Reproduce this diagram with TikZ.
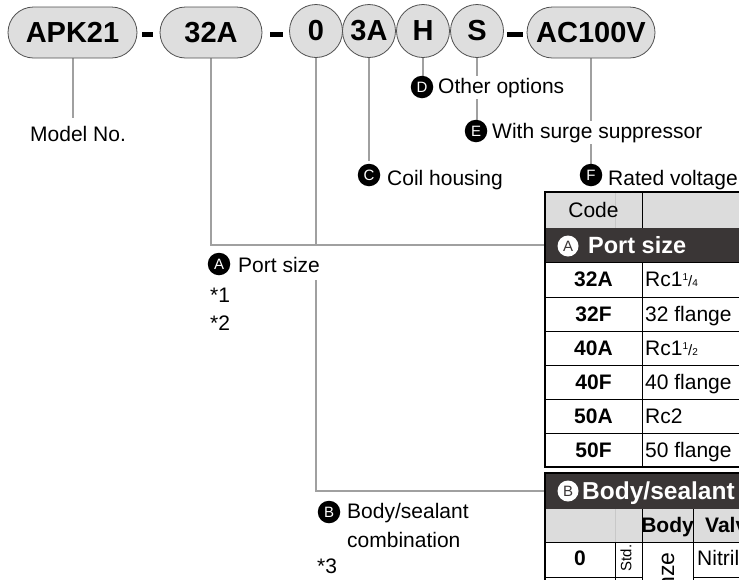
\documentclass[tikz,border=0pt]{standalone}
\usepackage{fontspec}
\setmainfont{Liberation Sans}
\usetikzlibrary{backgrounds,calc}
\definecolor{pillgray}{RGB}{222,222,222}
\definecolor{pillborder}{RGB}{80,80,80}
\definecolor{conngray}{RGB}{160,160,160}
\definecolor{darkrow}{RGB}{58,54,54}
\definecolor{hdrgray}{RGB}{220,220,220}
\definecolor{faint}{RGB}{200,200,200}
\begin{document}
\begin{tikzpicture}[x=1pt,y=-1pt,
 pill/.style={draw=pillborder, line width=0.8pt, fill=pillgray, rounded corners=25.5pt, minimum height=51pt, inner sep=0pt, font=\fontsize{29}{31}\selectfont\bfseries},
 disc/.style={draw=pillborder, line width=0.8pt, fill=pillgray, circle, minimum size=53pt, inner sep=0pt, font=\fontsize{29}{31}\selectfont\bfseries},
 dashbar/.style={fill=black, inner sep=0pt, minimum height=5pt},
 conn/.style={draw=conngray, line width=2pt},
 badge/.style={circle, fill=black, text=white, minimum size=22.5pt, inner sep=0pt, font=\fontsize{15}{15}\selectfont},
 wbadge/.style={circle, fill=white, text=darkrow, minimum size=21pt, inner sep=0pt, font=\fontsize{15}{15}\selectfont},
 lbl/.style={anchor=base west, inner sep=2pt, fill=white, font=\fontsize{21}{24}\selectfont},
 cell/.style={font=\fontsize{21}{24}\selectfont, inner sep=0pt},
 bcell/.style={font=\fontsize{21}{24}\selectfont\bfseries, inner sep=0pt},
 darkhead/.style={fill=darkrow, inner sep=0pt, minimum width=215pt, anchor=north west},
 tline/.style={draw=black, line width=0.8pt},
 tframe/.style={draw=black, line width=2pt},
]
\useasboundingbox (0,0) rectangle (739,579);
\clip (0,0) rectangle (739,579);

% ---- code pills ----
\node[pill, minimum width=129pt] (apk) at (72.5,32.5) {APK21};
\node[dashbar, minimum width=11pt] (d1) at (147.5,34.5) {};
\node[pill, minimum width=102pt] (port) at (211,32.5) {32A};
\node[dashbar, minimum width=13pt] (d2) at (276.5,34.5) {};
\node[disc] (zero) at (316,31) {0};
\node[disc] (coil) at (369,31) {3A};
\node[disc] (opt) at (423,31) {H};
\node[disc] (surge) at (477,31) {S};
\node[dashbar, minimum width=16pt] (d3) at (515,34.5) {};
\node[pill, minimum width=128pt] (volt) at (591,32.5) {AC100V};

% ---- labels ----
\node[lbl, inner sep=0pt, fill=none] (model) at (30,141) {Model No.};
\node[badge] (bD) at (422,87) {D};
\node[lbl] (tD) at (436,93) {Other options};
\node[badge] (bE) at (476,131) {E};
\node[lbl] (tE) at (490,138) {With surge suppressor};
\node[badge] (bC) at (369,175) {C};
\node[lbl] (tC) at (385,185) {Coil housing};
\node[badge] (bF) at (591,175) {F};
\node[lbl] (tF) at (606,185) {Rated voltage};
\node[badge] (bA) at (219,264) {A};
\node[lbl] (tA) at (236,272) {Port size};
\node[lbl] (n1) at (208,302) {*1};
\node[lbl] (n2) at (208,330) {*2};
\node[badge] (bB) at (329,512) {B};
\node[lbl] (tB) at (345,518) {Body/sealant};
\node[lbl] (tB2) at (345,547) {combination};
\node[lbl] (n3) at (315,573) {*3};

% ---- table A : port size ----
\fill[hdrgray] (545,192) rectangle (760,228);
\node[darkhead, minimum height=34pt] (rowA) at (545,228) {};
\draw[faint, line width=0.6pt] (615,192) -- (615,228);
\foreach \yy in {262,297,331,365,399,433}
  \draw[tline] (545,\yy) -- (760,\yy);
\draw[tline] (642,192) -- (642,228);
\draw[tline] (642,262) -- (642,467);
\draw[tframe] (760,192) -- (545,192) -- (545,467) -- (760,467);

\node[cell] (hcode) at (593.5,210) {Code};
\node[wbadge] (wA) at (568,246) {A};
\node[anchor=base west, inner sep=0pt, text=white, font=\fontsize{23.5}{26}\selectfont\bfseries] (hA) at (588,253.5) {Port size};

\node[bcell, anchor=base] (c1) at (593.5,286.5) {32A};
\node[bcell, anchor=base] (c2) at (593.5,321) {32F};
\node[bcell, anchor=base] (c3) at (593.5,355) {40A};
\node[bcell, anchor=base] (c4) at (593.5,389) {40F};
\node[bcell, anchor=base] (c5) at (593.5,423) {50A};
\node[bcell, anchor=base] (c6) at (593.5,457) {50F};
\node[cell, anchor=base west] (v1) at (645,286.5) {Rc1\raisebox{6pt}{\fontsize{10}{10}\selectfont 1}{\fontsize{15}{15}\selectfont/}{\fontsize{10}{10}\selectfont 4}};
\node[cell, anchor=base west] (v2) at (645,321) {32 flange};
\node[cell, anchor=base west] (v3) at (645,355) {Rc1\raisebox{6pt}{\fontsize{10}{10}\selectfont 1}{\fontsize{15}{15}\selectfont/}{\fontsize{10}{10}\selectfont 2}};
\node[cell, anchor=base west] (v4) at (645,389) {40 flange};
\node[cell, anchor=base west] (v5) at (645,423) {Rc2};
\node[cell, anchor=base west] (v6) at (645,457) {50 flange};

% ---- table B : body/sealant ----
\node[darkhead, minimum height=36pt] (rowB) at (545,473) {};
\fill[hdrgray] (545,509) rectangle (760,542);
\draw[faint, line width=0.6pt] (615,509) -- (615,542);
\draw[tline] (545,542) -- (760,542);
\draw[tline] (545,577) -- (642,577);
\draw[tline] (693,577) -- (760,577);
\draw[tline] (615,542) -- (615,600);
\draw[tline] (642,509) -- (642,600);
\draw[tline] (693,509) -- (693,600);
\draw[tframe] (760,473) -- (545,473) -- (545,600);

\node[wbadge] (wB) at (568,491) {B};
\node[anchor=base west, inner sep=0pt, text=white, font=\fontsize{24.5}{26}\selectfont\bfseries] (hB) at (582,499.5) {Body/sealant combination};
\node[bcell, anchor=base] (hbody) at (667.5,532) {Body};
\node[bcell, anchor=base west] (hval) at (705,532) {Valve seal};
\node[bcell, anchor=base] (r0) at (580,565) {0};
\node[rotate=90, inner sep=0pt, font=\fontsize{15}{15}\selectfont] (std) at (626,558) {Std.};
\node[rotate=90, anchor=base east, inner sep=0pt, font=\fontsize{23}{25}\selectfont] (bronze) at (674,552) {Bronze};
\node[cell, anchor=base west] (nbr) at (697,565) {Nitrile rubber};

% ---- connectors ----
\begin{scope}[on background layer]
\coordinate (bStart) at (316,280);
\draw[conn, shorten >=8pt] (apk.south) -- (apk.south |- model.north);
\draw[conn] (port.south) |- (rowA.west);
\draw[conn] (zero.south) -- (zero.south |- rowA.west);
\draw[conn] (bStart) |- (rowB.west);
\draw[conn, shorten >=3pt] (coil.south) -- (coil.south |- bC.north);
\draw[conn] (opt.south) -- (opt.south |- bD.north);
\draw[conn] (surge.south) -- (surge.south |- bE.north);
\draw[conn] (volt.south) -- (volt.south |- bF.north);
\end{scope}
\end{tikzpicture}
\end{document}
